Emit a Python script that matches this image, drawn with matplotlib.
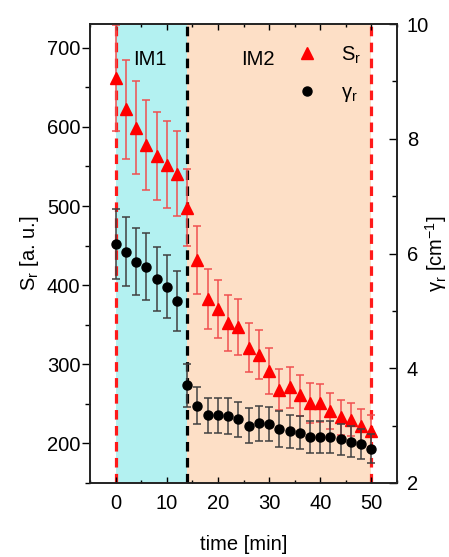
import matplotlib
matplotlib.use("Agg")
import matplotlib.pyplot as plt
from matplotlib.ticker import MultipleLocator

# -------------------------------
# Data
# -------------------------------
time = [0, 2, 4, 6, 8, 10, 12, 14, 16, 18, 20, 22, 24, 26, 28, 30,
        32, 34, 36, 38, 40, 42, 44, 46, 48, 50]

s_r = [662, 622, 599, 577, 563, 552, 541, 498, 432, 382, 370, 352, 347,
       321, 312, 291, 268, 271, 261, 251, 251, 241, 233, 230, 222, 216]
s_r_err = [67, 62, 59, 57, 56, 55, 54, 49, 43, 38, 37, 35, 35,
           31, 31, 29, 26, 26, 26, 25, 24, 23, 22, 21, 21, 20]

gamma_r = [6.16, 6.03, 5.86, 5.77, 5.55, 5.42, 5.17, 3.70, 3.35, 3.18, 3.18,
           3.17, 3.11, 3.00, 3.04, 3.03, 2.94, 2.90, 2.88, 2.80, 2.80, 2.80,
           2.76, 2.72, 2.68, 2.60]
gamma_r_err = [0.61, 0.60, 0.59, 0.58, 0.56, 0.55, 0.52, 0.37, 0.33, 0.31,
               0.31, 0.31, 0.30, 0.30, 0.30, 0.30, 0.31, 0.29, 0.28, 0.28,
               0.28, 0.28, 0.27, 0.27, 0.26, 0.26]

im1_start, im_switch, im2_end = 0, 14, 50

# -------------------------------
# Style
# -------------------------------
plt.rcParams["font.family"] = ["Liberation Sans", "DejaVu Sans"]
plt.rcParams["mathtext.fontset"] = "custom"
plt.rcParams["mathtext.rm"] = "Liberation Sans"
plt.rcParams["mathtext.it"] = "Liberation Sans:italic"
fs = 14.5

fig = plt.figure(figsize=(4.49, 5.57), dpi=100)
ax = fig.add_axes([90 / 449, 1 - 483 / 557, 307 / 449, 459 / 557])
ax2 = ax.twinx()

# shaded regimes
ax.axvspan(im1_start, im_switch, color="#b3f1f1", lw=0, zorder=0)
ax.axvspan(im_switch, im2_end, color="#fddfc6", lw=0, zorder=0)
ax.axvline(im1_start, color="#ff1a1a", ls=(0, (3, 2)), lw=2.3, zorder=1)
ax.axvline(im2_end, color="#ff1a1a", ls=(0, (3, 2)), lw=2.3, zorder=1)
ax.axvline(im_switch, color="black", ls=(0, (3, 2)), lw=2.3, zorder=1)

ax.errorbar(time, s_r, yerr=s_r_err, fmt="^", color="red", ms=8.5,
            ecolor="#f05050", elinewidth=1.1, capsize=3, capthick=1.1,
            zorder=3)
ax2.errorbar(time, gamma_r, yerr=gamma_r_err, fmt="o", color="black", ms=6.5,
             ecolor="#404040", elinewidth=1.1, capsize=3, capthick=1.1,
             zorder=3)

ax.text(6.7, 685, "IM1", fontsize=fs, ha="center", va="center")
ax.text(27.8, 685, "IM2", fontsize=fs, ha="center", va="center")

# -------------------------------
# Axes
# -------------------------------
ax.set_xlim(-5, 55)
ax.set_ylim(150, 730)
ax2.set_ylim(2, 10)

ax.xaxis.set_major_locator(MultipleLocator(10))
ax.xaxis.set_minor_locator(MultipleLocator(5))
ax.yaxis.set_major_locator(MultipleLocator(100))
ax.yaxis.set_minor_locator(MultipleLocator(50))
ax2.yaxis.set_major_locator(MultipleLocator(2))
ax2.yaxis.set_minor_locator(MultipleLocator(1))

ax.tick_params(axis="x", which="both", direction="in", top=True,
               labelsize=fs, pad=8)
ax.tick_params(axis="x", which="major", length=4, width=1)
ax.tick_params(axis="x", which="minor", length=2.5, width=1)
ax.tick_params(axis="y", which="both", direction="out", labelsize=fs, pad=1)
ax.tick_params(axis="y", which="major", length=6, width=1)
ax.tick_params(axis="y", which="minor", length=3.5, width=1)
ax2.tick_params(axis="y", which="both", direction="in", labelsize=fs, pad=7)
ax2.tick_params(axis="y", which="major", length=5.5, width=1)
ax2.tick_params(axis="y", which="minor", length=3.5, width=1)

for a in (ax, ax2):
    for sp in a.spines.values():
        sp.set_linewidth(1.2)
        sp.set_color("#222222")

ax.set_xlabel("time [min]", fontsize=fs, labelpad=16)
ax.set_ylabel(r"S$_\mathrm{r}$ [a. u.]", fontsize=fs, labelpad=4)
ax2.set_ylabel(r"γ$_\mathrm{r}$ [cm$^{-1}$]", fontsize=fs, rotation=90,
               ha="center", va="center")
ax2.yaxis.set_label_coords(1.126, 0.5)

# legend without error bars
h1 = plt.Line2D([], [], ls="none", marker="^", color="red", ms=8.5)
h2 = plt.Line2D([], [], ls="none", marker="o", color="black", ms=6.5)
ax2.legend([h1, h2], [r"S$_\mathrm{r}$", r"γ$_\mathrm{r}$"], loc="upper left",
           bbox_to_anchor=(0.615, 0.995), frameon=False, fontsize=fs,
           handlelength=1.0, handletextpad=1.2, labelspacing=0.85)

fig.savefig("out.png", dpi=100)
plt.close(fig)
